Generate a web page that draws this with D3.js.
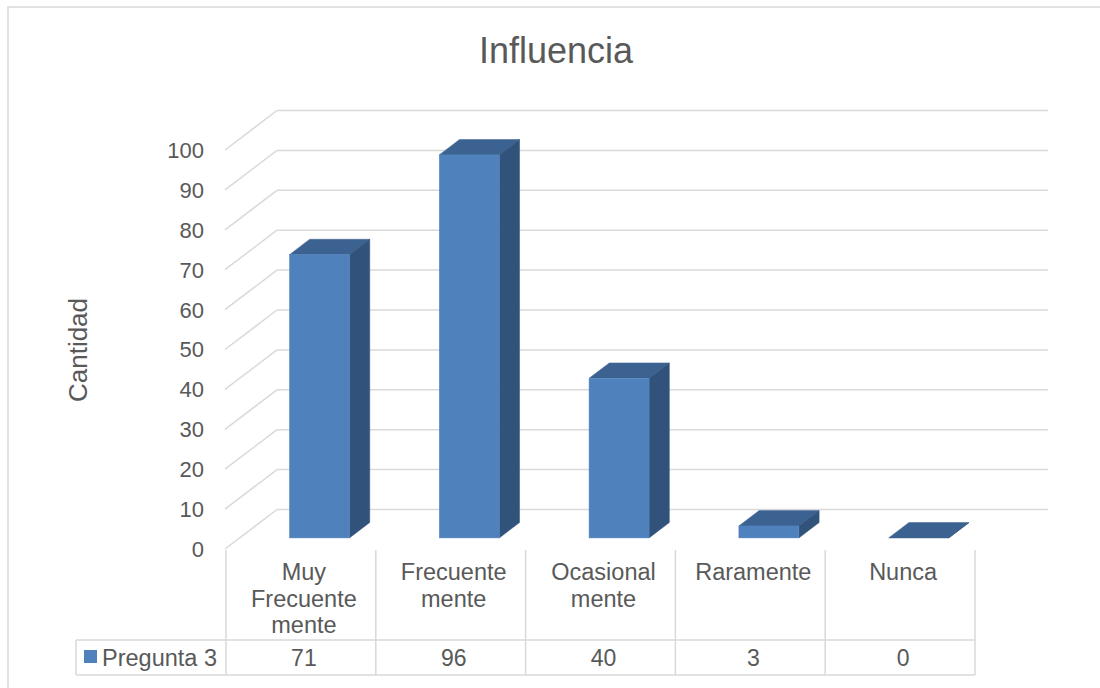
<!DOCTYPE html>
<html>
<head>
<meta charset="utf-8">
<script src="https://cdn.jsdelivr.net/npm/d3@7"></script>
<style>
  body { margin: 0; background: #fff; }
  text { font-family: "Liberation Sans", Arial, sans-serif; fill: #595959; }
</style>
</head>
<body>
<div id="chart"></div>
<script>
// Influencia - 3D column chart with data table

var categories = [["Muy", "Frecuente", "mente"], ["Frecuente", "mente"], ["Ocasional", "mente"], ["Raramente"], ["Nunca"]];
var values = [71, 96, 40, 3, 0];
var seriesName = "Pregunta 3";
var yTicks = [0, 10, 20, 30, 40, 50, 60, 70, 80, 90, 100];

var svgWidth = 1100;
var svgHeight = 688;

// depth offset of the floor (front edge -> back wall)
var depthX = 52;
var depthY = -39.5;

var svg = d3.select("#chart")
  .append("svg")
  .attr("width", svgWidth)
  .attr("height", svgHeight);

// chart border
svg.append("rect")
  .attr("x", 8).attr("y", 7)
  .attr("width", 1100).attr("height", 700)
  .attr("fill", "none")
  .attr("stroke", "#d9d9d9")
  .attr("stroke-width", 1.5);

var xScale = d3.scaleBand()
  .domain(d3.range(categories.length))
  .range([226, 975]);

var yScale = d3.scaleLinear()
  .domain([0, 100])
  .range([549, 150]);

// project a point with depth fraction d (0 = front, 1 = back wall)
function px(x, d) { return x + d * depthX; }
function py(y, d) { return y + d * depthY; }

// gridlines: diagonal on the side wall + horizontal on the back wall
var grid = svg.append("g")
  .attr("stroke", "#d9d9d9")
  .attr("stroke-width", 1.5)
  .attr("fill", "none");

grid.selectAll(".diag")
  .data(yTicks)
  .enter()
  .append("line")
  .attr("x1", 225)
  .attr("y1", d => yScale(d))
  .attr("x2", px(225, 1))
  .attr("y2", d => py(yScale(d), 1));

grid.selectAll(".back")
  .data(yTicks)
  .enter()
  .append("line")
  .attr("x1", px(225, 1))
  .attr("y1", d => py(yScale(d), 1))
  .attr("x2", 1048)
  .attr("y2", d => py(yScale(d), 1));

// y tick labels
svg.append("g")
  .selectAll("text")
  .data(yTicks)
  .enter()
  .append("text")
  .attr("x", 204)
  .attr("y", d => yScale(d))
  .attr("dy", "0.36em")
  .attr("text-anchor", "end")
  .style("font-size", "22px")
  .text(d => d);

// y axis title
svg.append("text")
  .attr("transform", "translate(87, 350) rotate(-90)")
  .attr("text-anchor", "middle")
  .style("font-size", "26px")
  .text("Cantidad");

// title
svg.append("text")
  .attr("x", 556)
  .attr("y", 63)
  .attr("text-anchor", "middle")
  .style("font-size", "36px")
  .text("Influencia");

// bars
var barW = 60;
var barShift = 4;
var d0 = 0.28, d1 = 0.67;
var colFront = "#4f81bd", colTop = "#3c6291", colSide = "#31537b";

var bars = svg.append("g")
  .selectAll("g")
  .data(values)
  .enter()
  .append("g");

function barX(i) { return xScale(i) + xScale.bandwidth() / 2 - barW / 2 + barShift; }

// top face
bars.append("path")
  .attr("fill", colTop)
  .attr("stroke", colTop)
  .attr("stroke-width", 0.5)
  .attr("d", function(v, i) {
    var x0 = barX(i), x1 = x0 + barW, y = yScale(v);
    return "M" + px(x0, d0) + "," + py(y, d0) +
      "L" + px(x1, d0) + "," + py(y, d0) +
      "L" + px(x1, d1) + "," + py(y, d1) +
      "L" + px(x0, d1) + "," + py(y, d1) + "Z";
  });

// side face
bars.append("path")
  .attr("fill", colSide)
  .attr("stroke", colSide)
  .attr("stroke-width", 0.5)
  .attr("d", function(v, i) {
    var x1 = barX(i) + barW, y = yScale(v), yb = yScale(0);
    return "M" + px(x1, d0) + "," + py(y, d0) +
      "L" + px(x1, d1) + "," + py(y, d1) +
      "L" + px(x1, d1) + "," + py(yb, d1) +
      "L" + px(x1, d0) + "," + py(yb, d0) + "Z";
  });

// front face
bars.append("rect")
  .attr("fill", colFront)
  .attr("stroke", "#5a8ac6")
  .attr("stroke-width", 0.5)
  .attr("x", (v, i) => px(barX(i), d0))
  .attr("y", v => py(yScale(v), d0))
  .attr("width", barW)
  .attr("height", v => yScale(0) - yScale(v));

// data table
var tableTop = 550, rowSep = 640, tableBottom = 675, legendLeft = 76;
var table = svg.append("g")
  .attr("stroke", "#d9d9d9")
  .attr("stroke-width", 1.5);

var bounds = xScale.domain().map(i => xScale(i)).concat([xScale.range()[1]]);

table.selectAll(".vline")
  .data(bounds)
  .enter()
  .append("line")
  .attr("x1", d => d).attr("x2", d => d)
  .attr("y1", tableTop).attr("y2", tableBottom);

table.append("line")
  .attr("x1", legendLeft).attr("x2", xScale.range()[1])
  .attr("y1", rowSep).attr("y2", rowSep);
table.append("line")
  .attr("x1", legendLeft).attr("x2", xScale.range()[1])
  .attr("y1", tableBottom).attr("y2", tableBottom);
table.append("line")
  .attr("x1", legendLeft).attr("x2", legendLeft)
  .attr("y1", rowSep).attr("y2", tableBottom);

// category labels
svg.append("g")
  .selectAll("text")
  .data(categories)
  .enter()
  .append("text")
  .attr("text-anchor", "middle")
  .style("font-size", "23.5px")
  .each(function(lines, i) {
    d3.select(this).selectAll("tspan")
      .data(lines)
      .enter()
      .append("tspan")
      .attr("x", xScale(i) + xScale.bandwidth() / 2 + 3)
      .attr("y", (l, j) => 580 + j * 26.5)
      .text(l => l);
  });

// values row
svg.append("g")
  .selectAll("text")
  .data(values)
  .enter()
  .append("text")
  .attr("x", (v, i) => xScale(i) + xScale.bandwidth() / 2 + 3)
  .attr("y", 666)
  .attr("text-anchor", "middle")
  .style("font-size", "23px")
  .text(v => v);

// legend key
svg.append("rect")
  .attr("x", 84).attr("y", 650)
  .attr("width", 13).attr("height", 13)
  .attr("fill", colFront);

svg.append("text")
  .attr("x", 102)
  .attr("y", 666)
  .style("font-size", "23.5px")
  .text(seriesName);
</script>
</body>
</html>
